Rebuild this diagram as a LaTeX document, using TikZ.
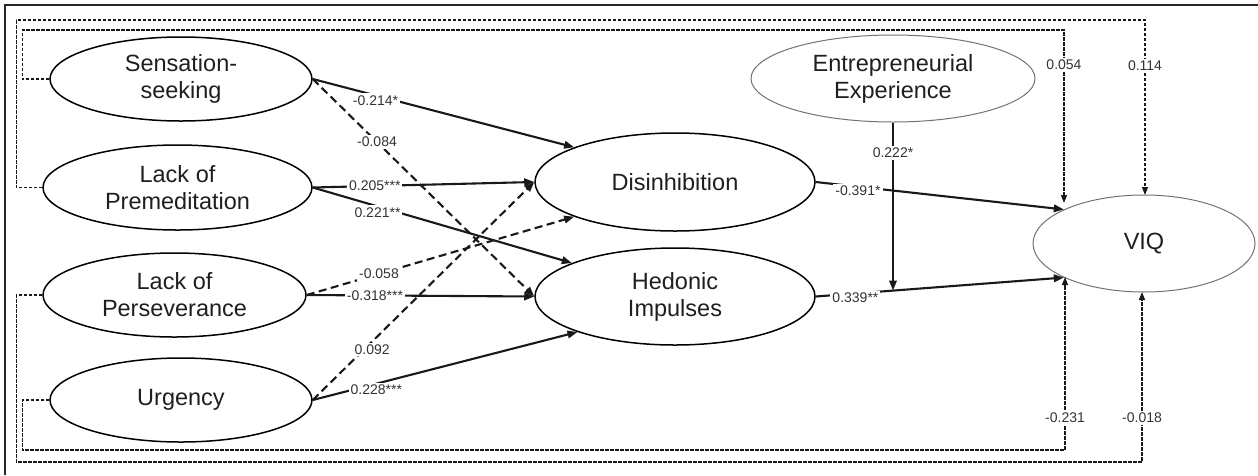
\documentclass[tikz,border=0pt]{standalone}
\usepackage{fontspec}
\setmainfont{Liberation Sans}
\usetikzlibrary{shapes.geometric,arrows.meta}
\begin{document}
\begin{tikzpicture}[x=1pt,y=-1pt,
 lat/.style={ellipse,draw=black,line width=1.5pt,inner sep=0pt,minimum width=262pt,minimum height=84pt,align=center,font=\fontsize{23.5}{27}\selectfont,text=black!88},
 latg/.style={lat,draw=black!55,line width=1pt},
 sp/.style={-{Triangle[length=10pt,width=7.5pt]},line width=2.1pt,black!90},
 dp/.style={sp,dash pattern=on 8pt off 4.5pt},
 cp/.style={-{Triangle[length=8pt,width=6pt]},line width=1.2pt,dash pattern=on 3.5pt off 1.5pt,black!90},
 lab/.style={fill=white,inner sep=2pt,font=\fontsize{14}{16}\selectfont,text=black!80},
]
\fill[white] (0,0) rectangle (1258,475);
\useasboundingbox (0,0) rectangle (1258,475);
\draw[line width=1.8pt,black!85] (5,475) -- (5,5) -- (1258,5);

% latent variables
\node[lat] (SS) at (181,79) {Sensation-\\seeking};
\node[lat,minimum width=269pt,minimum height=85pt] (LP) at (177.5,187.5) {Lack of\\Premeditation};
\node[lat,minimum width=263pt] (LPer) at (174.5,295) {Lack of\\Perseverance};
\node[lat] (Urg) at (181,400) {Urgency};
\node[lat,minimum width=280pt,minimum height=98pt] (Dis) at (675,182) {Disinhibition};
\node[lat,minimum width=280pt,minimum height=97pt] (Hed) at (675,296.5) {Hedonic\\Impulses};
\node[latg,minimum width=284pt,minimum height=87pt] (EE) at (893,78.5) {Entrepreneurial\\Experience};
\node[latg,minimum width=222pt,minimum height=97pt] (VIQ) at (1144,243.5) {VIQ};

% arrow ends of the control paths
\coordinate (v1) at (1064,203);
\coordinate (v2) at (1145,195);
\coordinate (v3) at (1142,292);
\coordinate (v4) at (1065,277);

% control paths
\draw[cp] (SS.west) -- ++(-27,0) |- (1064,30) -- node[lab,pos=0.2]{0.054} (v1);
\draw[cp] (LP.west) -- ++(-26,0) |- (1145,20) -- node[lab,pos=0.26]{0.114} (v2);
\draw[cp] (LPer.west) -- ++(-26,0) |- (1142,462) -- node[lab,pos=0.26]{-0.018} (v3);
\draw[cp] (Urg.west) -- ++(-27,0) |- (1065,450) -- node[lab,pos=0.185]{-0.231} (v4);

% structural paths
\draw[sp] (SS.east) -- node[lab,pos=0.24,yshift=-5pt]{-0.214*} (Dis.161);
\draw[dp] (SS.east) -- node[lab,pos=0.29]{-0.084} (Hed.west);
\draw[sp] (LP.east) -- node[lab,pos=0.28]{0.205***} (Dis.west);
\draw[sp] (LP.east) -- node[lab,pos=0.25,yshift=-6pt]{0.221**} (Hed.162);
\draw[dp] (LPer.east) -- node[lab,pos=0.27]{-0.058} (Dis.199);
\draw[sp] (LPer.east) -- node[lab,pos=0.3]{-0.318***} (Hed.west);
\draw[dp] (Urg.east) -- node[lab,pos=0.25,xshift=4pt,yshift=-4pt]{0.092} (Dis.west);
\draw[sp] (Urg.east) -- node[lab,pos=0.24,yshift=-6pt]{0.228***} (Hed.200);
\draw[sp] (Dis.east) -- node[lab,pos=0.17,yshift=-4pt]{-0.391*} (VIQ.157);
\draw[sp] (Hed.east) -- node[lab,pos=0.16,yshift=-4pt]{0.339**} coordinate[pos=0.315] (mod) (VIQ.203);
\draw[sp] (EE.south) -- node[lab,pos=0.18]{0.222*} (EE.south |- mod);
\end{tikzpicture}
\end{document}
